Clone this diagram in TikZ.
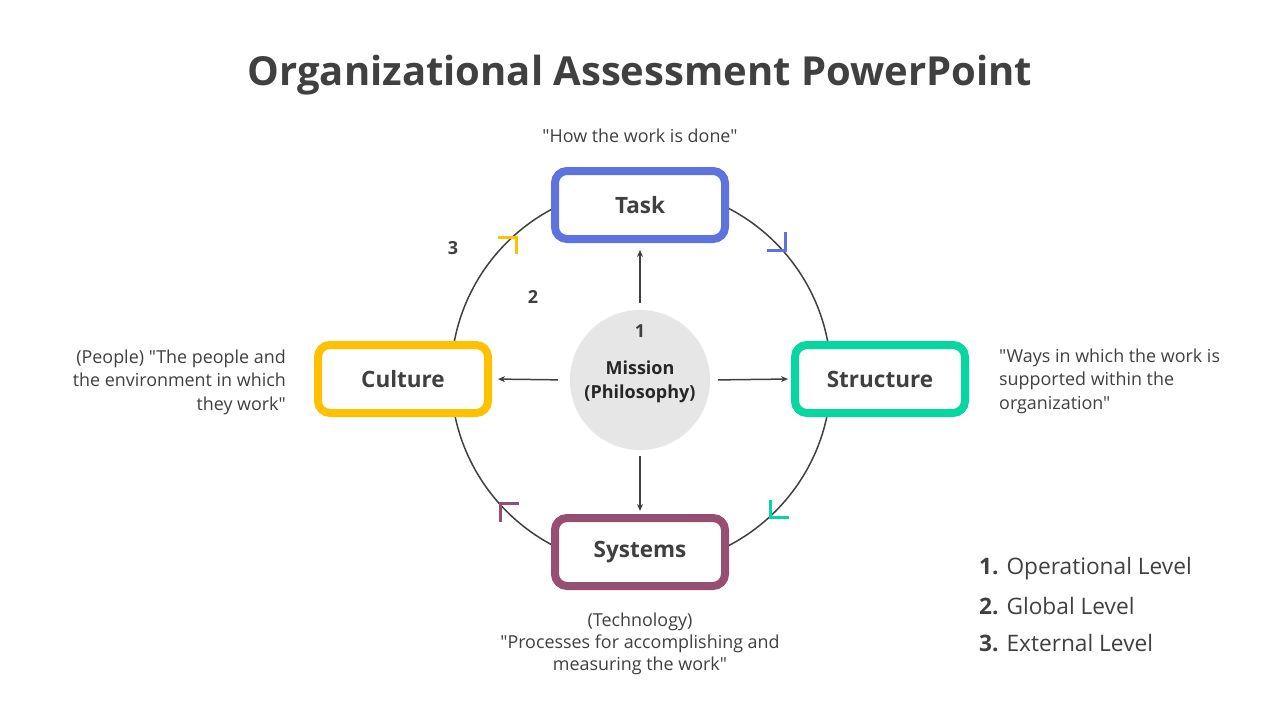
\documentclass[tikz,border=0pt]{standalone}
\usepackage{fontspec}
\setmainfont{Open Sans}[Ligatures=TeXOff]
\usetikzlibrary{arrows.meta}
\definecolor{txt}{HTML}{404040}
\definecolor{cblue}{HTML}{5F73E0}
\definecolor{cyellow}{HTML}{FFC000}
\definecolor{cgreen}{HTML}{06D6A0}
\definecolor{cpurple}{HTML}{964F72}
\definecolor{cgray}{HTML}{E6E6E6}
\tikzset{
  boxnode/.style={draw=#1, line width=8pt, rounded corners=12pt, fill=white,
    minimum width=170pt, minimum height=68pt, text=txt,
    font=\fontsize{22.5}{26}\selectfont\bfseries},
  desc/.style={text=txt, font=\fontsize{17.9}{23.5}\selectfont, inner sep=0pt},
  numlbl/.style={text=txt, font=\fontsize{18}{22}\selectfont\bfseries, inner sep=0pt},
  conn/.style={draw=txt, line width=1.5pt, -{Stealth[length=7pt,width=6pt]}},
  chev/.style={line width=3pt, line cap=rect},
  lvl/.style={anchor=west, text=txt, font=\fontsize{22.7}{26}\selectfont, inner sep=0pt}
}
\begin{document}
\begin{tikzpicture}[x=1pt,y=-1pt]
\useasboundingbox[fill=white] (0,0) rectangle (1280,720);
% title
\node[text=txt, font=\fontsize{40}{46}\selectfont\bfseries] (title) at (640,75) {Organizational Assessment PowerPoint};
% ring
\draw[txt, line width=1.5pt] (641,377) circle[radius=190];
% chevrons
\draw[chev, cyellow] (499,237) -- (516,237) -- (516,252);
\draw[chev, cblue] (785,233) -- (785,250) -- (768,250);
\draw[chev, cgreen] (770,501) -- (770,517) -- (787,517);
\draw[chev, cpurple] (500,520) -- (500,503) -- (517,503);
% boxes
\node[boxnode=cblue] (task) at (640,205) {Task};
\node[boxnode=cyellow] (culture) at (403,379) {Culture};
\node[boxnode=cgreen] (structure) at (880,379) {Structure};
\node[boxnode=cpurple] (systems) at (640,552) {Systems};
% mission
\node[circle, fill=cgray, minimum size=140pt, inner sep=0pt] (mission) at (640,380) {};
\node[numlbl] (one) at (640,331) {1};
\node[numlbl, align=center, font=\fontsize{18}{24}\selectfont\bfseries, text=black!85] (mtext) at (640,382) {Mission\\(Philosophy)};
% numbers
\node[numlbl] (three) at (453,248) {3};
\node[numlbl] (two) at (533,297) {2};
% connectors
\draw[conn, shorten <=7pt, shorten >=7pt] (mission.north) -- (task.south);
\draw[conn, shorten <=12pt, shorten >=6pt] (mission.west) -- (culture.east);
\draw[conn, shorten <=8pt, shorten >=3pt] (mission.east) -- (structure.west);
\draw[conn, shorten <=6pt, shorten >=3pt] (mission.south) -- (systems.north);
% descriptions
\node[desc] (dtask) at (640,136) {"How the work is done"};
\node[desc, anchor=east, align=right] (dculture) at (286,382) {(People) "The people and\\the environment in which\\they work"};
\node[desc, anchor=west, align=left] (dstructure) at (999,381) {"Ways in which the work is\\supported within the\\organization"};
\node[desc, align=center, font=\fontsize{17.9}{22.2}\selectfont] (dsystems) at (640,644) {(Technology)\\"Processes for accomplishing and\\measuring the work"};
% levels
\node[lvl] (l1) at (979,569) {\textbf{1.} Operational Level};
\node[lvl] (l2) at (979,606) {\textbf{2.} Global Level};
\node[lvl] (l3) at (979,643) {\textbf{3.} External Level};
\end{tikzpicture}
\end{document}
